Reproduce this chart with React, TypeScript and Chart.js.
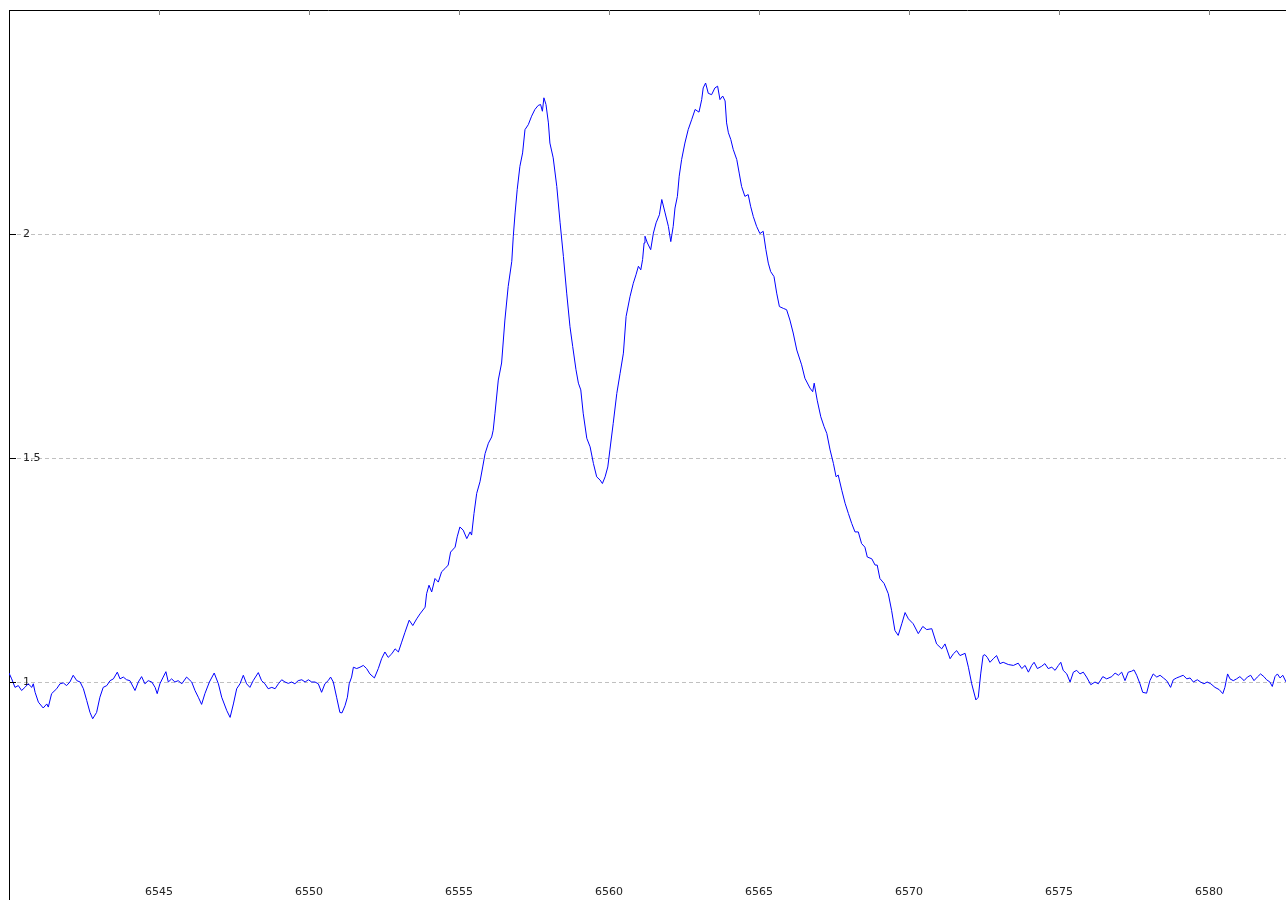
import React, { useEffect, useRef } from "react";
import { Chart, registerables } from "chart.js";

Chart.register(...registerables);

const WAVELENGTH: number[] = [
  6540.00, 6540.09, 6540.20, 6540.31, 6540.42, 6540.53, 6540.64, 6540.76, 6540.81, 6540.87, 6540.98,
  6541.14, 6541.26, 6541.31, 6541.42, 6541.59, 6541.70, 6541.81, 6541.92,
  6542.03, 6542.14, 6542.26, 6542.37, 6542.48, 6542.59, 6542.70, 6542.79, 6542.92,
  6543.03, 6543.14, 6543.26, 6543.37, 6543.48, 6543.61, 6543.70, 6543.81, 6543.92,
  6544.03, 6544.20, 6544.31, 6544.42, 6544.53, 6544.64, 6544.76, 6544.87, 6544.94,
  6545.03, 6545.14, 6545.23, 6545.31, 6545.42, 6545.53, 6545.64, 6545.76, 6545.92,
  6546.09, 6546.20, 6546.31, 6546.42, 6546.53, 6546.68, 6546.84, 6546.98,
  6547.09, 6547.26, 6547.37, 6547.48, 6547.59, 6547.70, 6547.81, 6547.92,
  6548.03, 6548.14, 6548.31, 6548.42, 6548.53, 6548.64, 6548.76, 6548.87, 6548.98,
  6549.09, 6549.20, 6549.31, 6549.42, 6549.53, 6549.64, 6549.76, 6549.87, 6549.98,
  6550.09, 6550.20, 6550.31, 6550.42, 6550.53, 6550.64, 6550.72, 6550.81, 6550.92,
  6551.03, 6551.10, 6551.20, 6551.28, 6551.34, 6551.42, 6551.48, 6551.59, 6551.70, 6551.81, 6551.92,
  6552.03, 6552.18, 6552.31, 6552.42, 6552.53, 6552.64, 6552.76, 6552.87, 6552.98,
  6553.09, 6553.20, 6553.34, 6553.46, 6553.59, 6553.70, 6553.87, 6553.92,
  6554.00, 6554.09, 6554.20, 6554.31, 6554.42, 6554.53, 6554.64, 6554.72, 6554.87, 6554.94,
  6555.03, 6555.14, 6555.26, 6555.37, 6555.42, 6555.50, 6555.59, 6555.70, 6555.79, 6555.87, 6555.98,
  6556.09, 6556.14, 6556.20, 6556.31, 6556.42, 6556.53, 6556.64, 6556.76, 6556.81, 6556.87, 6556.94,
  6557.03, 6557.12, 6557.20, 6557.31, 6557.42, 6557.53, 6557.64, 6557.72, 6557.78, 6557.83, 6557.90, 6557.98,
  6558.03, 6558.14, 6558.26, 6558.37, 6558.48, 6558.59, 6558.70, 6558.79, 6558.90, 6558.98,
  6559.06, 6559.14, 6559.26, 6559.37, 6559.48, 6559.59, 6559.70, 6559.78, 6559.87, 6559.96,
  6560.03, 6560.14, 6560.26, 6560.37, 6560.48, 6560.57, 6560.70, 6560.81, 6560.90, 6560.98,
  6561.06, 6561.12, 6561.17, 6561.20, 6561.28, 6561.39, 6561.48, 6561.57, 6561.68, 6561.76, 6561.87, 6561.98,
  6562.06, 6562.14, 6562.20, 6562.28, 6562.34, 6562.42, 6562.53, 6562.64, 6562.76, 6562.87,
  6563.00, 6563.09, 6563.14, 6563.22, 6563.31, 6563.42, 6563.53, 6563.62, 6563.70, 6563.79, 6563.87, 6563.92, 6563.98,
  6564.06, 6564.14, 6564.26, 6564.34, 6564.42, 6564.53, 6564.64, 6564.72, 6564.81, 6564.92,
  6565.03, 6565.14, 6565.23, 6565.31, 6565.39, 6565.50, 6565.59, 6565.68, 6565.81, 6565.92,
  6566.03, 6566.14, 6566.26, 6566.42, 6566.53, 6566.70, 6566.79, 6566.84, 6566.94,
  6567.06, 6567.17, 6567.26, 6567.37, 6567.48, 6567.57, 6567.64, 6567.76, 6567.87, 6567.98,
  6568.09, 6568.20, 6568.31, 6568.42, 6568.53, 6568.61, 6568.76, 6568.87, 6568.94,
  6569.03, 6569.17, 6569.31, 6569.42, 6569.53, 6569.64, 6569.76, 6569.87, 6569.98,
  6570.14, 6570.31, 6570.46, 6570.59, 6570.76, 6570.92,
  6571.09, 6571.20, 6571.37, 6571.48, 6571.59, 6571.70, 6571.87, 6571.98,
  6572.09, 6572.23, 6572.31, 6572.39, 6572.47, 6572.53, 6572.61, 6572.70, 6572.81, 6572.92,
  6573.03, 6573.14, 6573.31, 6573.48, 6573.64, 6573.76, 6573.87, 6573.98,
  6574.09, 6574.17, 6574.28, 6574.42, 6574.53, 6574.64, 6574.76, 6574.87, 6574.98,
  6575.06, 6575.14, 6575.26, 6575.37, 6575.48, 6575.59, 6575.70, 6575.81, 6575.92,
  6576.06, 6576.20, 6576.31, 6576.46, 6576.59, 6576.76, 6576.87, 6576.98,
  6577.09, 6577.20, 6577.31, 6577.42, 6577.50, 6577.59, 6577.70, 6577.79, 6577.92,
  6578.03, 6578.14, 6578.26, 6578.37, 6578.48, 6578.59, 6578.72, 6578.81, 6578.92,
  6579.03, 6579.14, 6579.26, 6579.37, 6579.48, 6579.61, 6579.72, 6579.83, 6579.94,
  6580.06, 6580.20, 6580.34, 6580.46, 6580.53, 6580.62, 6580.70, 6580.81, 6580.92,
  6581.03, 6581.17, 6581.28, 6581.39, 6581.50, 6581.61, 6581.72, 6581.83, 6581.92,
  6582.03, 6582.11, 6582.20, 6582.28, 6582.37, 6582.46, 6582.57,
];

const FLUX: number[] = [
  1.020, 1.007, 0.988, 0.992, 0.981, 0.988, 0.996, 0.988, 0.996, 0.977, 0.955,
  0.942, 0.951, 0.944, 0.974, 0.985, 0.996, 0.998, 0.992,
  1.000, 1.015, 1.003, 1.000, 0.985, 0.959, 0.932, 0.918, 0.932,
  0.966, 0.988, 0.992, 1.003, 1.007, 1.022, 1.007, 1.011, 1.005,
  1.003, 0.981, 1.000, 1.012, 0.996, 1.003, 1.000, 0.988, 0.974,
  0.996, 1.011, 1.023, 1.000, 1.007, 1.000, 1.003, 0.996, 1.011,
  1.000, 0.981, 0.966, 0.950, 0.974, 1.000, 1.020, 0.996,
  0.966, 0.936, 0.921, 0.951, 0.985, 0.996, 1.015, 0.996,
  0.988, 1.003, 1.021, 1.003, 0.996, 0.985, 0.988, 0.985, 0.996,
  1.005, 1.000, 0.997, 1.000, 0.996, 1.003, 1.005, 1.000, 1.005,
  1.000, 1.000, 0.996, 0.977, 0.996, 1.003, 1.011, 1.000, 0.966,
  0.932, 0.931, 0.947, 0.966, 0.996, 1.011, 1.033, 1.030, 1.033, 1.037, 1.030,
  1.018, 1.009, 1.030, 1.052, 1.067, 1.055, 1.063, 1.074, 1.067,
  1.089, 1.111, 1.138, 1.126, 1.141, 1.152, 1.167, 1.197,
  1.216, 1.201, 1.231, 1.223, 1.246, 1.253, 1.261, 1.290, 1.301, 1.324,
  1.346, 1.339, 1.320, 1.335, 1.328, 1.376, 1.421, 1.447, 1.480, 1.510, 1.533,
  1.547, 1.562, 1.600, 1.674, 1.712, 1.808, 1.883, 1.939, 1.995, 2.047, 2.099,
  2.151, 2.181, 2.233, 2.244, 2.263, 2.278, 2.287, 2.289, 2.274, 2.304, 2.289, 2.248,
  2.203, 2.170, 2.106, 2.025, 1.950, 1.868, 1.793, 1.749, 1.697, 1.667,
  1.652, 1.600, 1.544, 1.525, 1.488, 1.458, 1.451, 1.443, 1.458, 1.480,
  1.518, 1.577, 1.644, 1.689, 1.734, 1.816, 1.860, 1.890, 1.909, 1.928,
  1.920, 1.943, 1.980, 1.995, 1.980, 1.965, 2.002, 2.025, 2.043, 2.077, 2.047, 2.017,
  1.983, 2.017, 2.058, 2.084, 2.129, 2.166, 2.203, 2.233, 2.256, 2.278,
  2.272, 2.300, 2.326, 2.337, 2.314, 2.311, 2.326, 2.330, 2.300, 2.308, 2.297, 2.248, 2.226,
  2.211, 2.189, 2.166, 2.136, 2.106, 2.084, 2.088, 2.062, 2.039, 2.017,
  2.001, 2.006, 1.965, 1.935, 1.916, 1.905, 1.868, 1.838, 1.834, 1.831,
  1.808, 1.779, 1.741, 1.708, 1.678, 1.656, 1.648, 1.667, 1.629,
  1.592, 1.570, 1.555, 1.518, 1.488, 1.458, 1.462, 1.428, 1.399, 1.376,
  1.354, 1.335, 1.335, 1.309, 1.301, 1.279, 1.275, 1.261, 1.261,
  1.231, 1.220, 1.197, 1.160, 1.115, 1.104, 1.130, 1.155, 1.141,
  1.130, 1.108, 1.124, 1.117, 1.119, 1.085,
  1.074, 1.085, 1.052, 1.063, 1.070, 1.059, 1.064, 1.033,
  0.996, 0.960, 0.966, 1.018, 1.059, 1.061, 1.055, 1.044, 1.052, 1.059,
  1.041, 1.044, 1.039, 1.037, 1.042, 1.030, 1.037, 1.022,
  1.037, 1.044, 1.030, 1.035, 1.041, 1.030, 1.033, 1.026, 1.037,
  1.044, 1.026, 1.018, 1.000, 1.022, 1.026, 1.018, 1.022, 1.011,
  0.994, 1.000, 0.996, 1.012, 1.007, 1.012, 1.020, 1.015,
  1.022, 1.003, 1.022, 1.024, 1.027, 1.015, 0.996, 0.977, 0.975,
  1.003, 1.018, 1.011, 1.015, 1.009, 1.003, 0.988, 1.005, 1.009,
  1.012, 1.015, 1.007, 1.009, 1.000, 1.005, 1.000, 0.996, 1.000,
  0.996, 0.988, 0.983, 0.974, 0.988, 1.018, 1.007, 1.003, 1.007,
  1.012, 1.003, 1.011, 1.015, 1.003, 1.011, 1.018, 1.012, 1.005,
  1.000, 0.990, 1.012, 1.018, 1.009, 1.015, 1.000,
];

const X_TICKS: number[] = [6545, 6550, 6555, 6560, 6565, 6570, 6575, 6580];
const Y_TICKS: number[] = [1, 1.5, 2];
const X_MIN = 6540;
const X_MAX = 6582.567;
const Y_MIN = 0.5;
const Y_MAX = 2.5;

const innerTicks = {
  id: "innerTicks",
  afterDraw(chart: any) {
    const { ctx, chartArea, scales } = chart;
    ctx.save();
    ctx.lineWidth = 1;
    ctx.strokeStyle = "#808080";
    ctx.beginPath();
    scales.x.ticks.forEach((t: any) => {
      const px = Math.round(scales.x.getPixelForValue(t.value)) + 0.5;
      ctx.moveTo(px, chartArea.top);
      ctx.lineTo(px, chartArea.top + 5);
    });
    ctx.stroke();
    ctx.strokeStyle = "#000000";
    ctx.beginPath();
    scales.y.ticks.forEach((t: any) => {
      const py = Math.round(scales.y.getPixelForValue(t.value)) + 0.5;
      ctx.moveTo(chartArea.left, py);
      ctx.lineTo(chartArea.left + 7, py);
    });
    ctx.stroke();
    ctx.restore();
  },
};

const zeroPad = (s: any) => {
  s.paddingTop = 0;
  s.paddingBottom = 0;
  s.paddingLeft = 0;
  s.paddingRight = 0;
};

export default function App() {
  const ref = useRef<HTMLCanvasElement | null>(null);

  useEffect(() => {
    if (!ref.current) return;
    const font = { family: "'DejaVu Sans', sans-serif", size: 11 };
    const chart = new Chart(ref.current, {
      type: "line",
      data: {
        datasets: [
          {
            data: WAVELENGTH.map((x, i) => ({ x, y: FLUX[i] })),
            borderColor: "#0000ff",
            borderWidth: 1,
            pointRadius: 0,
            tension: 0,
            fill: false,
          },
        ],
      },
      options: {
        responsive: false,
        animation: false,
        layout: { padding: 0 },
        plugins: { legend: { display: false }, tooltip: { enabled: false } },
        scales: {
          x: {
            type: "linear",
            position: "bottom",
            min: X_MIN,
            max: X_MAX,
            afterBuildTicks: (s: any) => {
              s.ticks = X_TICKS.map((v) => ({ value: v }));
            },
            afterFit: (s: any) => {
              s.height = 0;
              zeroPad(s);
            },
            grid: { display: false, drawOnChartArea: false, drawTicks: false },
            border: { display: false },
            ticks: {
              mirror: true,
              padding: 7,
              color: "#222222",
              font,
              maxRotation: 0,
              autoSkip: false,
              callback: (v: any) => String(v),
            },
          },
          xTop: {
            type: "linear",
            position: "top",
            min: X_MIN,
            max: X_MAX,
            afterFit: (s: any) => {
              s.height = 10;
              zeroPad(s);
            },
            grid: { drawOnChartArea: false, drawTicks: false },
            border: { display: true, color: "#000000", width: 1 },
            ticks: { display: false },
          },
          y: {
            type: "linear",
            position: "left",
            min: Y_MIN,
            max: Y_MAX,
            afterBuildTicks: (s: any) => {
              s.ticks = Y_TICKS.map((v) => ({ value: v }));
            },
            afterFit: (s: any) => {
              s.width = 9;
              zeroPad(s);
            },
            grid: { color: "#c0c0c0", lineWidth: 1, drawTicks: false },
            border: { display: true, color: "#000000", width: 1, dash: [4, 3] },
            ticks: {
              mirror: true,
              padding: 14,
              color: "#222222",
              font,
              callback: (v: any) => String(v),
            },
          },
        },
      },
      plugins: [innerTicks],
    });
    return () => chart.destroy();
  }, []);

  return (
    <div style={{ position: "fixed", left: 0, top: 0, width: 1286, height: 906, background: "#ffffff" }}>
      <canvas ref={ref} width={1286} height={906} style={{ display: "block" }} />
    </div>
  );
}
